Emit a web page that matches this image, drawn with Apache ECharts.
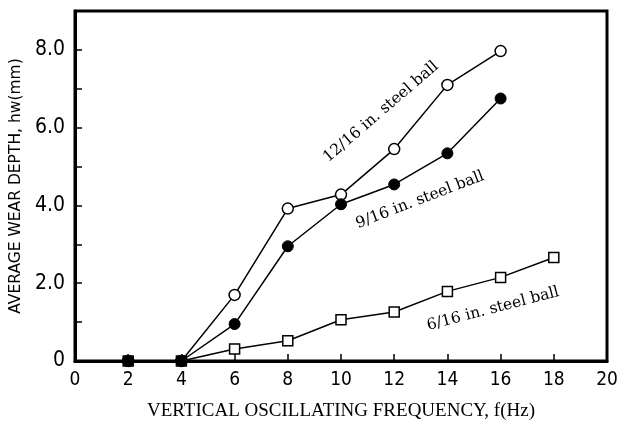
<!DOCTYPE html>
<html><head><meta charset="utf-8">
<script src="https://cdn.jsdelivr.net/npm/echarts@6/dist/echarts.min.js"></script>
<style>html,body{margin:0;padding:0;background:#fff}#c{width:619px;height:429px}</style>
</head><body><div id="c"></div>
<script>
const freq12 = [2,4,6,8,10,12,14,16];
const depth12 = [0,0,1.70,3.92,4.28,5.45,7.10,7.97];
const freq9 = [2,4,6,8,10,12,14,16];
const depth9 = [0,0,0.95,2.95,4.03,4.54,5.34,6.75];
const freq6 = [2,4,6,8,10,12,14,16,18];
const depth6 = [0,0,0.31,0.52,1.06,1.26,1.79,2.15,2.66];
const xTicks = [0,2,4,6,8,10,12,14,16,18,20];
const yTicks = [0,2,4,6,8];
const labels = ['12/16 in. steel ball','9/16 in. steel ball','6/16 in. steel ball'];

function pairs(xs, ys){ return xs.map((x,i)=>[x, ys[i]]); }
const chart = echarts.init(document.getElementById('c'));
const tickFont = {fontFamily:'DejaVu Sans Condensed, Liberation Sans Narrow, sans-serif', fontSize:19, color:'#000'};
const lineStyle = {color:'#000', width:1.5};
const annFont = '15.5px DejaVu Serif, serif';
chart.setOption({
  animation:false,
  backgroundColor:'#fff',
  grid:{left:75, right:12, top:11, bottom:68, outerBoundsMode:'none', containLabel:false, show:true, borderColor:'#000', borderWidth:3, backgroundColor:'transparent'},
  xAxis:{type:'value', min:0, max:20, interval:2,
    axisLine:{show:true, lineStyle:{color:'#000', width:3}},
    axisTick:{show:true, inside:true, length:7, lineStyle:{color:'#000', width:1.5}},
    splitLine:{show:false},
    axisLabel:Object.assign({margin:10, formatter:v=>xTicks.indexOf(v)>=0?String(v):''}, tickFont),
    name:'VERTICAL OSCILLATING FREQUENCY, f(Hz)', nameLocation:'middle', nameGap:41,
    nameTextStyle:{fontFamily:'Liberation Serif, serif', fontSize:19, color:'#000'}
  },
  yAxis:{type:'value', min:0, max:9, interval:1,
    axisLine:{show:true, lineStyle:{color:'#000', width:3}},
    axisTick:{show:true, inside:true, length:7, lineStyle:{color:'#000', width:1.5}},
    splitLine:{show:false},
    axisLabel:Object.assign({margin:10, formatter:v=>yTicks.indexOf(v)>=0?(v===0?'0':v.toFixed(1)):''}, tickFont, {fontSize:21}),
    name:'AVERAGE WEAR DEPTH, hw(mm)', nameLocation:'middle', nameGap:46,
    nameTextStyle:{fontFamily:'DejaVu Sans, sans-serif', fontSize:15.5, color:'#000'}
  },
  series:[
    {type:'line', data:pairs(freq6, depth6), symbol:'rect', symbolSize:10,
     lineStyle:lineStyle, itemStyle:{color:'#fff', borderColor:'#000', borderWidth:1.5}, z:2},
    {type:'line', data:pairs(freq12, depth12), symbol:'circle', symbolSize:11,
     lineStyle:lineStyle, itemStyle:{color:'#fff', borderColor:'#000', borderWidth:1.5}, z:3},
    {type:'line', data:pairs(freq9, depth9), symbol:'circle', symbolSize:11,
     lineStyle:lineStyle, itemStyle:{color:'#000', borderColor:'#000', borderWidth:1}, z:4}
  ],
  graphic:[
    {type:'text', x:381, y:112, rotation:40.7*Math.PI/180, style:{text:labels[0], fill:'#000', font:annFont, align:'center', verticalAlign:'middle'}},
    {type:'text', x:420, y:200, rotation:21*Math.PI/180, style:{text:labels[1], fill:'#000', font:annFont, align:'center', verticalAlign:'middle'}},
    {type:'text', x:493, y:309, rotation:14.6*Math.PI/180, style:{text:labels[2], fill:'#000', font:annFont, align:'center', verticalAlign:'middle'}}
  ]
});
</script></body></html>
